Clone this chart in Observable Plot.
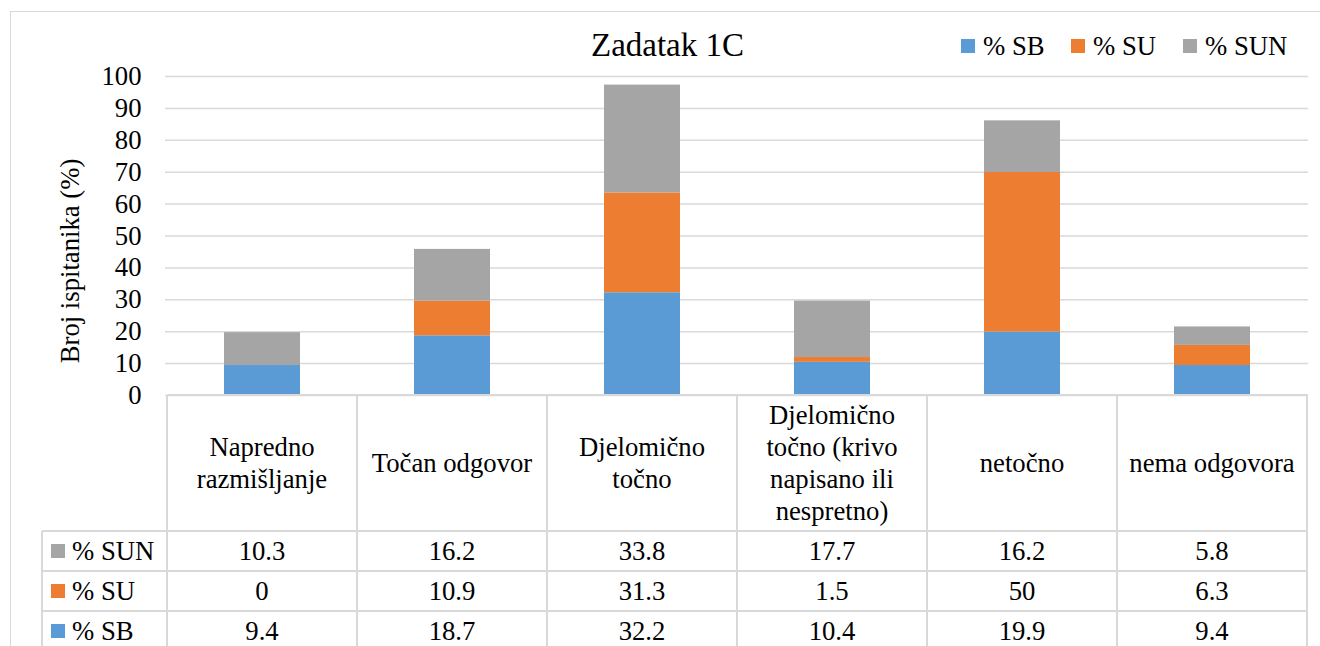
<!DOCTYPE html>
<html>
<head>
<meta charset="utf-8">
<script src="https://cdn.jsdelivr.net/npm/d3@7"></script>
<script src="https://cdn.jsdelivr.net/npm/@observablehq/plot@0.6"></script>
<style>
  html, body { margin: 0; padding: 0; background: #fff; }
  #root { position: relative; width: 1320px; height: 646px; overflow: hidden; font-family: 'Liberation Serif', Tinos, 'DejaVu Serif', serif; color: #000; }
  .abs { position: absolute; }
  .txt { position: absolute; white-space: nowrap; line-height: 1; }
  .hline { position: absolute; height: 2px; background: #d9d9d9; }
  .vline { position: absolute; width: 2px; background: #d9d9d9; }
  .cell { position: absolute; display: flex; align-items: center; justify-content: center; text-align: center; font-size: 26.7px; line-height: 32px; box-sizing: border-box; padding: 0 6px; }
  svg text { font-family: 'Liberation Serif', Tinos, 'DejaVu Serif', serif; }
</style>
</head>
<body>
<div id="root"></div>
<script>
const categories = ["Napredno razmišljanje", "Točan odgovor", "Djelomično točno", "Djelomično točno (krivo napisano ili nespretno)", "netočno", "nema odgovora"];
const seriesNames = ["% SB", "% SU", "% SUN"];
const sbValues = [9.4, 18.7, 32.2, 10.4, 19.9, 9.4];
const suValues = [0, 10.9, 31.3, 1.5, 50, 6.3];
const sunValues = [10.3, 16.2, 33.8, 17.7, 16.2, 5.8];
const seriesColors = ["#5B9BD5", "#ED7D31", "#A5A5A5"];
const yTicks = [0, 10, 20, 30, 40, 50, 60, 70, 80, 90, 100];
const titleText = "Zadatak 1C";
const yLabel = "Broj ispitanika (%)";

const seriesValues = [sbValues, suValues, sunValues];
const data = [];
categories.forEach((c, i) => {
  seriesNames.forEach((s, j) => data.push({category: c, series: s, value: seriesValues[j][i]}));
});

const root = document.getElementById("root");
const FS = 26.7;
const FONT = "'Liberation Serif', Tinos, 'DejaVu Serif', serif";

const plot = Plot.plot({
  width: 1320,
  height: 400,
  marginLeft: 165,
  marginRight: 12,
  marginTop: 76,
  marginBottom: 5,
  x: {domain: categories, paddingInner: 0.6, paddingOuter: 0.3, axis: null},
  y: {domain: [0, 100]},
  color: {domain: seriesNames, range: seriesColors},
  style: {fontFamily: FONT, fontSize: FS + "px", color: "#000", background: "transparent", overflow: "visible"},
  marks: [
    Plot.gridY(yTicks, {stroke: "#d9d9d9", strokeOpacity: 1, strokeWidth: 1.5}),
    Plot.axisY(yTicks, {tickSize: 0, tickPadding: 24, label: null, fill: "#000", fontFamily: FONT}),
    Plot.barY(data, {x: "category", y: "value", fill: "series"})
  ]
});
plot.style.position = "absolute";
plot.style.left = "0px";
plot.style.top = "0px";
root.appendChild(plot);

function text(str, x, baseline, fs, anchor) {
  const d = document.createElement("div");
  d.className = "txt";
  d.textContent = str;
  d.style.fontSize = fs + "px";
  d.style.top = (baseline - 0.8375 * fs) + "px";
  if (anchor === "middle") { d.style.left = x + "px"; d.style.transform = "translateX(-50%)"; }
  else d.style.left = x + "px";
  root.appendChild(d);
  return d;
}
function swatch(x, y, color) {
  const d = document.createElement("div");
  d.className = "abs";
  Object.assign(d.style, {left: x + "px", top: y + "px", width: "14px", height: "14px", background: color});
  root.appendChild(d);
}
function hline(x1, x2, y) {
  const d = document.createElement("div");
  d.className = "hline";
  Object.assign(d.style, {left: x1 + "px", top: (y - 1) + "px", width: (x2 - x1 + 1) + "px"});
  root.appendChild(d);
}
function vline(x, y1, y2) {
  const d = document.createElement("div");
  d.className = "vline";
  Object.assign(d.style, {left: (x - 1) + "px", top: y1 + "px", height: (y2 - y1) + "px"});
  root.appendChild(d);
}

// Title
text(titleText, 667.5, 57, 33, "middle");

// Legend
const legendX = [961, 1071, 1183];
seriesNames.forEach((s, j) => {
  swatch(legendX[j], 39, seriesColors[j]);
  text(s, legendX[j] + 22, 55, FS);
});

// Y label
const yl = document.createElement("div");
yl.className = "txt";
yl.textContent = yLabel;
Object.assign(yl.style, {fontSize: FS + "px", left: "70px", top: "261px", transform: "translate(-50%, -50%) rotate(-90deg)"});
root.appendChild(yl);

// Data table aligned with the x scale
const xs = plot.scale("x");
const yScale = plot.scale("y");
const step = xs.step;
const gap = (xs.step - xs.bandwidth) / 2;
const colLeft = categories.map(c => xs.apply(c) - gap);
const tableLeft = 42;
const frameLeft = colLeft[0];
const frameRight = colLeft[colLeft.length - 1] + step;
const tableTop = yScale.apply(0);
const headerBottom = tableTop + 136;
const rowH = 40;
const rowOrder = [2, 1, 0]; // SUN, SU, SB
const rowTops = rowOrder.map((_, r) => headerBottom + r * rowH);

categories.forEach((c, i) => {
  const d = document.createElement("div");
  d.className = "cell";
  d.textContent = c;
  Object.assign(d.style, {left: colLeft[i] + "px", top: tableTop + "px", width: step + "px", height: (headerBottom - tableTop) + "px"});
  root.appendChild(d);
});
rowOrder.forEach((j, r) => {
  const top = rowTops[r];
  const sw = document.createElement("div");
  sw.className = "abs";
  Object.assign(sw.style, {left: "51px", top: (top + 13) + "px", width: "14px", height: "14px", background: seriesColors[j]});
  root.appendChild(sw);
  const lab = document.createElement("div");
  lab.className = "cell";
  lab.textContent = seriesNames[j];
  Object.assign(lab.style, {left: "72px", top: top + "px", height: rowH + "px", justifyContent: "flex-start", padding: "0"});
  root.appendChild(lab);
  categories.forEach((c, i) => {
    const d = document.createElement("div");
    d.className = "cell";
    d.textContent = String(seriesValues[j][i]);
    Object.assign(d.style, {left: colLeft[i] + "px", top: top + "px", width: step + "px", height: rowH + "px"});
    root.appendChild(d);
  });
});

// table lines
hline(frameLeft, frameRight, tableTop);
for (let r = 0; r <= rowOrder.length; r++) hline(tableLeft, frameRight, headerBottom + r * rowH);
vline(tableLeft, headerBottom, 700);
colLeft.forEach(x => vline(x, tableTop, 700));
vline(frameRight, tableTop, 700);

// outer chart border
const border = document.createElement("div");
border.className = "abs";
Object.assign(border.style, {left: "10px", top: "11px", width: "1400px", height: "800px", border: "1.5px solid #d9d9d9", pointerEvents: "none", boxSizing: "border-box"});
root.appendChild(border);
</script>
</body>
</html>
